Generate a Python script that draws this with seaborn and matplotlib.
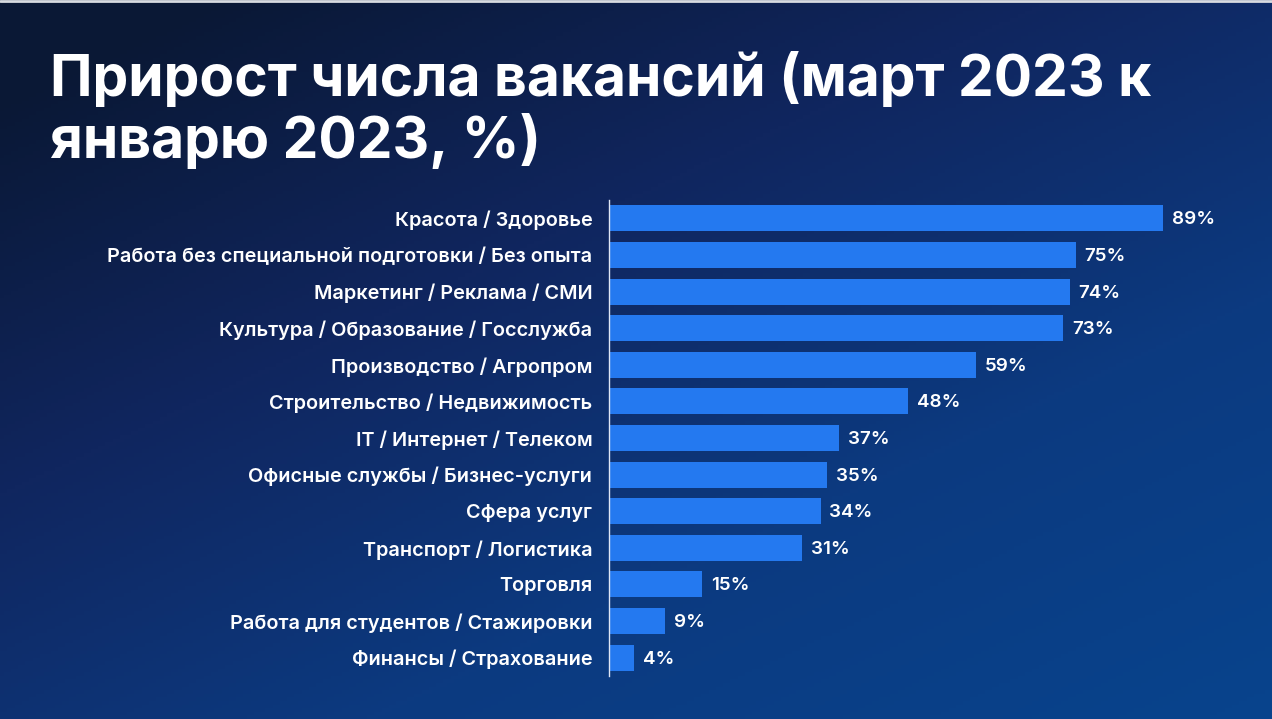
import numpy as np
import pandas as pd
import matplotlib.pyplot as plt
from matplotlib.colors import LinearSegmentedColormap
import seaborn as sns

# данные
categories = [
    "Красота / Здоровье",
    "Работа без специальной подготовки / Без опыта",
    "Маркетинг / Реклама / СМИ",
    "Культура / Образование / Госслужба",
    "Производство / Агропром",
    "Строительство / Недвижимость",
    "IT / Интернет / Телеком",
    "Офисные службы / Бизнес-услуги",
    "Сфера услуг",
    "Транспорт / Логистика",
    "Торговля",
    "Работа для студентов / Стажировки",
    "Финансы / Страхование",
]
growth = [89, 75, 74, 73, 59, 48, 37, 35, 34, 31, 15, 9, 4]
title = "Прирост числа вакансий (март 2023 к\nянварю 2023, %)"

df = pd.DataFrame({"category": categories, "growth": growth})

sns.set_style("white")
plt.rcParams["font.family"] = ["Inter", "DejaVu Sans"]

fig = plt.figure(figsize=(12.72, 7.19), dpi=100)

# фон с градиентом
bg = fig.add_axes([0, 0, 1, 1], zorder=0)
yy, xx = np.mgrid[0:1:200j, 0:1:350j]
t = np.clip(0.5 * xx + 0.6 * yy - 0.08, 0, 1)
cmap = LinearSegmentedColormap.from_list("bg", ["#0a1835", "#10265f", "#0c3a80", "#08438c"])
bg.imshow(t, cmap=cmap, aspect="auto", extent=[0, 1, 1, 0], vmin=0, vmax=1)
bg.axis("off")
bg.axhline(0.0015, color="#d8dbe0", lw=2)

ax = fig.add_axes([609 / 1272, 1 - 676 / 719, (1240 - 609) / 1272, 476 / 719], zorder=1)
ax.patch.set_alpha(0)
sns.barplot(data=df, x="growth", y="category", color="#2479f0", saturation=1,
            width=0.71, edgecolor="none", linewidth=0, ax=ax)
ax.set_xlim(0, (1240 - 609) / 6.225)
ax.set_ylim(12.5, -0.5)
ax.set_xlabel("")
ax.set_ylabel("")
ax.set_xticks([])
for s in ["top", "right", "bottom"]:
    ax.spines[s].set_visible(False)
ax.spines["left"].set_color("#dfe6f5")
ax.spines["left"].set_linewidth(1)
ax.tick_params(axis="y", length=0, pad=12, labelsize=14.3, labelcolor="white")
for lbl in ax.get_yticklabels():
    lbl.set_fontweight("semibold")

for i, v in enumerate(growth):
    ax.text(v + 1.4, i + 0.04, f"{v}%", va="center", ha="left", color="white",
            fontsize=13.5, fontweight="semibold")

fig.text(50 / 1272, 1 - 52 / 719, title, ha="left", va="top", color="white",
         fontsize=41, fontweight="bold", linespacing=1.13)

fig.savefig("out.png", dpi=100)
